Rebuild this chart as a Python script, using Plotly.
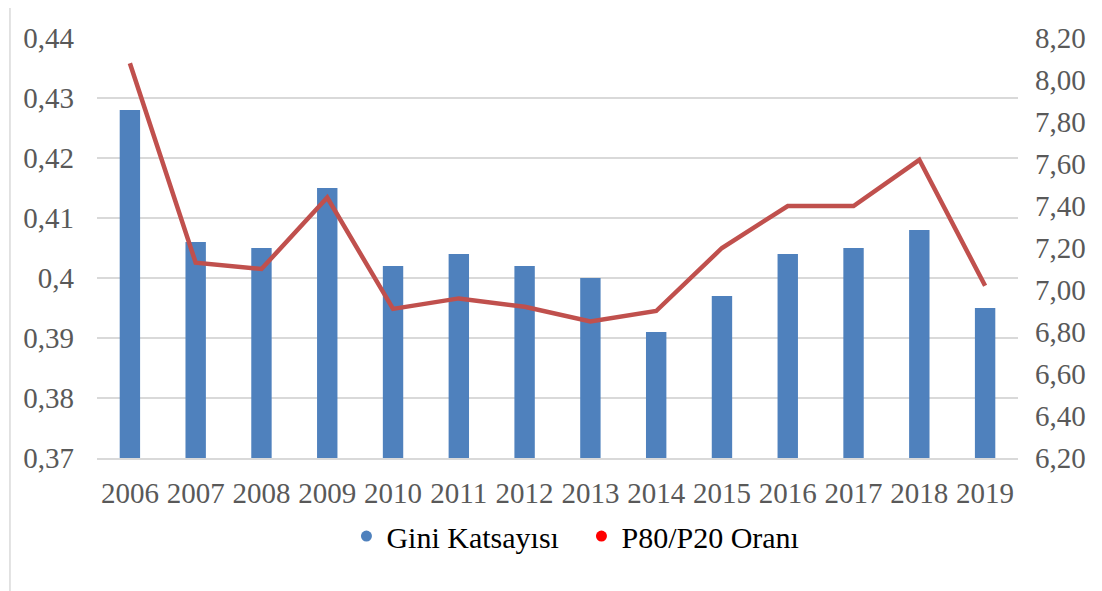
import plotly.graph_objects as go

years = ["2006", "2007", "2008", "2009", "2010", "2011", "2012",
         "2013", "2014", "2015", "2016", "2017", "2018", "2019"]
gini = [0.428, 0.406, 0.405, 0.415, 0.402, 0.404, 0.402,
        0.400, 0.391, 0.397, 0.404, 0.405, 0.408, 0.395]
p80_p20 = [8.08, 7.13, 7.10, 7.44, 6.91, 6.96, 6.92,
           6.85, 6.90, 7.20, 7.40, 7.40, 7.62, 7.02]

left_ticks = [0.37, 0.38, 0.39, 0.40, 0.41, 0.42, 0.43, 0.44]
left_text = ["0,37", "0,38", "0,39", "0,4", "0,41", "0,42", "0,43", "0,44"]

font = "Liberation Serif, Times New Roman, serif"

fig = go.Figure()
fig.add_trace(go.Bar(x=years, y=gini, name="Gini Katsayısı",
                     marker=dict(color="#4F81BD", line=dict(width=0)),
                     width=0.31, showlegend=False))
fig.add_trace(go.Scatter(x=years, y=p80_p20, name="P80/P20 Oranı", yaxis="y2",
                         mode="lines", line=dict(color="#C0504D", width=4.5),
                         showlegend=False))
# legend entries (dot symbols as in the original)
fig.add_trace(go.Scatter(x=[None], y=[None], mode="markers", name="Gini Katsayısı",
                         marker=dict(color="#4F81BD", size=11)))
fig.add_trace(go.Scatter(x=[None], y=[None], mode="markers", name="P80/P20 Oranı",
                         marker=dict(color="#FF0000", size=11)))

fig.update_layout(
    width=1102, height=591,
    margin=dict(l=89, r=92, t=30, b=141),
    paper_bgcolor="white", plot_bgcolor="white",
    font=dict(family=font, size=29, color="#595959"),
    xaxis=dict(type="category", showgrid=False, showline=True, linecolor="#D9D9D9",
               linewidth=1.5, ticks="", ticklabelstandoff=8,
               tickfont=dict(size=29, color="#595959")),
    yaxis=dict(range=[0.37, 0.44], tickvals=left_ticks, ticktext=left_text,
               showgrid=True, gridcolor="#D9D9D9", gridwidth=1.5,
               zeroline=False, ticks="", ticklabelstandoff=22),
    yaxis2=dict(range=[6.2, 8.2], dtick=0.2, tick0=6.2, tickformat=".2f",
                overlaying="y", side="right", showgrid=False, zeroline=False,
                ticks="", ticklabelstandoff=16),
    separators=",.",
    legend=dict(orientation="h", x=0.526, xanchor="center", y=-0.186, yanchor="middle",
                font=dict(size=30, color="black"), entrywidth=190, itemwidth=30),
    shapes=[dict(type="line", xref="paper", yref="paper",
                 x0=-0.0945, x1=-0.0945, y0=-0.32, y1=1.1,
                 line=dict(color="#D9D9D9", width=1.5))],
)

fig.write_html("out.html")
